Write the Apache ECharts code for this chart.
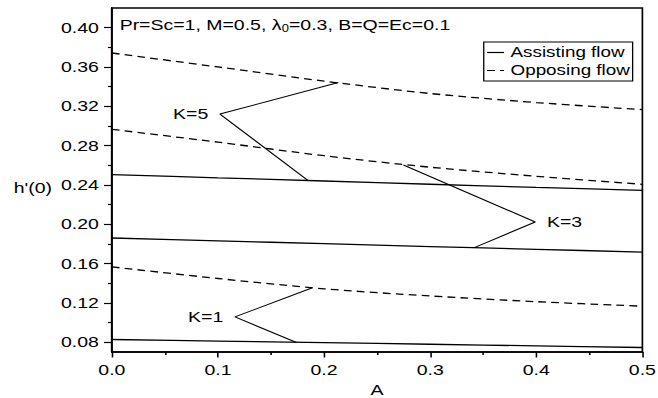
<!DOCTYPE html>
<html><head><meta charset="utf-8">
<script src="https://cdn.jsdelivr.net/npm/echarts@6/dist/echarts.min.js"></script>
<style>
html,body{margin:0;padding:0;background:#fff;overflow:hidden;width:658px;height:398px}
#c{width:506px;height:398px;transform:scaleX(1.3004);transform-origin:0 0}
</style></head>
<body><div id="c"></div>
<script>
// ---- data ----
const A = [0, 0.1, 0.2, 0.3, 0.4, 0.5];
const assistK1 = [0.0827, 0.0811, 0.0795, 0.0779, 0.0762, 0.0746];
const assistK3 = [0.1860, 0.1831, 0.1802, 0.1773, 0.1745, 0.1716];
const assistK5 = [0.2505, 0.2472, 0.2440, 0.2407, 0.2375, 0.2345];
const opposeK1 = [0.1566, 0.1448, 0.1343, 0.1270, 0.1212, 0.1166];
const opposeK3 = [0.2966, 0.2835, 0.2697, 0.2580, 0.2488, 0.2406];
const opposeK5 = [0.3742, 0.3600, 0.3456, 0.3330, 0.3238, 0.3166];
// annotation pointers: [end on opposing curve, tip next to label, end on assisting curve]
const arrowK5 = [[0.2135, 0.3442], [0.1019, 0.3121], [0.185, 0.2444]];
const arrowK3 = [[0.2748, 0.2603], [0.399, 0.2023], [0.341, 0.176]];
const arrowK1 = [[0.1884, 0.1351], [0.116, 0.1057], [0.174, 0.0797]];
const yTicks = [0.08, 0.12, 0.16, 0.20, 0.24, 0.28, 0.32, 0.36, 0.40];
const yMinorTicks = [0.10, 0.14, 0.18, 0.22, 0.26, 0.30, 0.34, 0.38];
const legendNames = ['Assisting flow', 'Opposing flow'];

const FONT = "'Liberation Sans', Arial, Helvetica, sans-serif";
const chart = echarts.init(document.getElementById('c'), null, {renderer: 'svg'});

function curve(name, vals, dashed) {
  return {
    type: 'line', name: name, data: A.map((a, i) => [a, vals[i]]),
    symbol: 'none', smooth: 0.3, silent: true,
    lineStyle: {color: '#000', width: 1.3, type: dashed ? [6, 4] : 'solid'},
    itemStyle: {color: '#000'}
  };
}
function pointer(label, pts, side) {
  return {
    type: 'line', name: label, silent: true,
    symbol: 'circle', symbolSize: 0,
    lineStyle: {color: '#000', width: 1},
    itemStyle: {color: '#000'},
    data: [pts[0], {value: pts[1], label: {show: true, position: side, distance: 9,
      formatter: label, fontSize: 15, color: '#000', fontFamily: FONT}}, pts[2]]
  };
}

const axisLine = {show: true, lineStyle: {color: '#000', width: 1.5}};
chart.setOption({
  animation: false,
  title: {
    text: '{a|Pr=Sc=1, M=0.5, λ}{s|0}{a|=0.3, B=Q=Ec=0.1}',
    left: 92, top: 15, padding: 0,
    textStyle: {fontWeight: 'normal', rich: {
      a: {fontSize: 15, fontWeight: 'normal', color: '#000', fontFamily: FONT},
      s: {fontSize: 10, fontWeight: 'normal', color: '#000', fontFamily: FONT, padding: [9, 0, 0, 0]}
    }}
  },
  legend: {
    data: legendNames, orient: 'vertical', left: 372, top: 42,
    itemWidth: 13, itemHeight: 12, itemGap: 3, padding: [3, 2, 3, 2],
    borderColor: '#000', borderWidth: 1, selectedMode: false,
    itemStyle: {color: 'rgba(0,0,0,0)', borderColor: 'rgba(0,0,0,0)', borderWidth: 0, opacity: 0},
    lineStyle: {color: '#000', width: 1.2},
    textStyle: {fontSize: 14.5, color: '#000', fontFamily: FONT}
  },
  grid: {left: 86, right: 12, top: 8, bottom: 46, show: true, borderColor: '#000', borderWidth: 1.3,
    containLabel: false, outerBoundsMode: 'none'},
  xAxis: {
    type: 'value', min: 0, max: 0.5, interval: 0.1,
    axisLine: axisLine,
    axisTick: {length: 5.5, lineStyle: {color: '#000', width: 1.2}},
    minorTick: {show: true, splitNumber: 2, length: 3, lineStyle: {color: '#000', width: 1.2}},
    splitLine: {show: false}, minorSplitLine: {show: false},
    axisLabel: {fontSize: 15, color: '#000', fontFamily: FONT, margin: 10, formatter: v => v.toFixed(1)},
    name: 'A', nameLocation: 'middle', nameGap: 26,
    nameTextStyle: {fontSize: 15, color: '#000', fontFamily: FONT}
  },
  yAxis: [{
    type: 'value', min: 0.07, max: 0.42, position: 'left',
    axisLine: axisLine,
    axisTick: {customValues: yTicks, length: 6, lineStyle: {color: '#000', width: 1.2}},
    axisLabel: {customValues: yTicks, fontSize: 15, color: '#000', fontFamily: FONT, margin: 10,
      formatter: v => v.toFixed(2)},
    splitLine: {show: false},
    name: "h'(0)", nameLocation: 'middle', nameRotate: 0, nameGap: 46,
    nameTextStyle: {fontSize: 15, color: '#000', fontFamily: FONT, verticalAlign: 'top'}
  }, {
    type: 'value', min: 0.07, max: 0.42, position: 'left', offset: 0,
    axisLine: {show: false},
    axisTick: {show: true, customValues: yMinorTicks, length: 3, lineStyle: {color: '#000', width: 1.2}},
    axisLabel: {show: false},
    splitLine: {show: false}
  }],
  series: [
    curve(legendNames[0], assistK1, false),
    curve(legendNames[0], assistK3, false),
    curve(legendNames[0], assistK5, false),
    curve(legendNames[1], opposeK1, true),
    curve(legendNames[1], opposeK3, true),
    curve(legendNames[1], opposeK5, true),
    pointer('K=5', arrowK5, 'left'),
    pointer('K=3', arrowK3, 'right'),
    pointer('K=1', arrowK1, 'left')
  ]
});
</script></body></html>
